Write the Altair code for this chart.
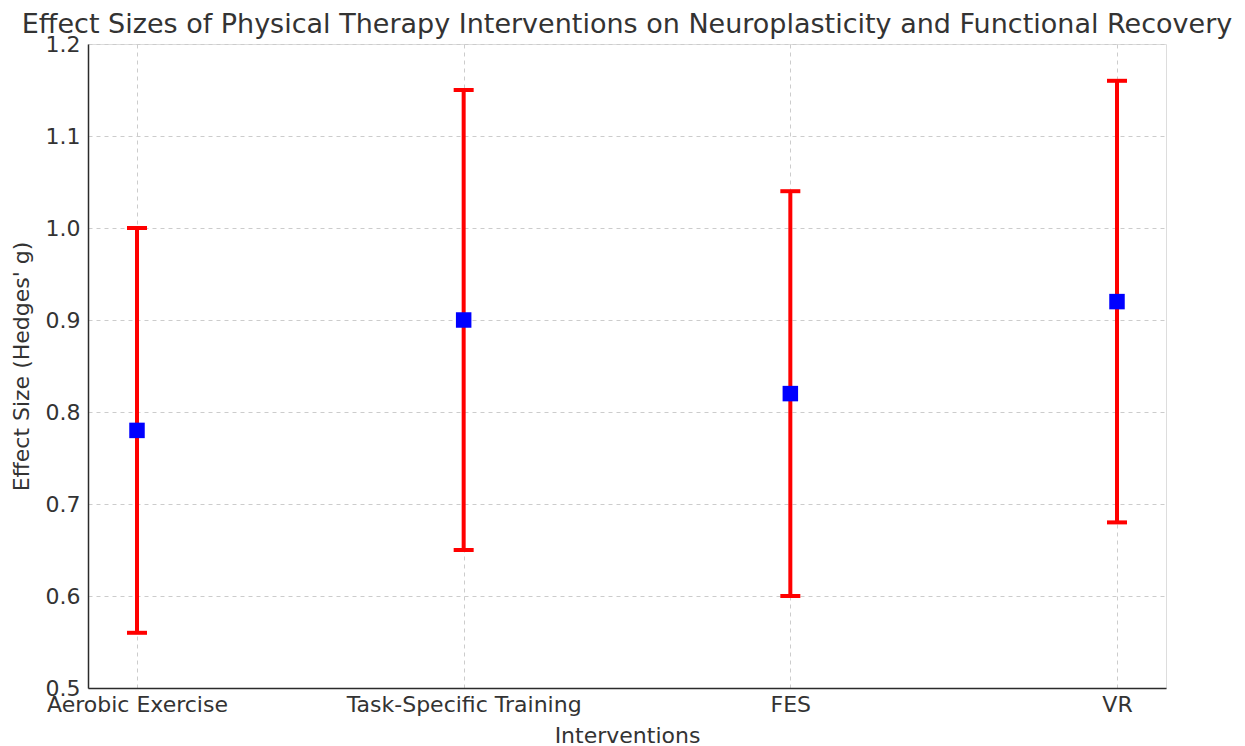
import altair as alt
import pandas as pd

interventions = ["Aerobic Exercise", "Task-Specific Training", "FES", "VR"]
effect_sizes = [0.78, 0.90, 0.82, 0.92]
ci_lower = [0.56, 0.65, 0.60, 0.68]
ci_upper = [1.00, 1.15, 1.04, 1.16]
y_ticks = [0.5, 0.6, 0.7, 0.8, 0.9, 1.0, 1.1, 1.2]

df = pd.DataFrame({
    "Intervention": interventions,
    "g": effect_sizes,
    "lo": ci_lower,
    "hi": ci_upper,
})

FONT = "DejaVu Sans"
TXT = "#333333"

x_enc = alt.X(
    "Intervention:N",
    sort=interventions,
    scale=alt.Scale(type="point", padding=0.15),
    axis=alt.Axis(
        title="Interventions",
        labelAngle=0,
        labelFontSize=22,
        titleFontSize=22,
        labelPadding=6,
        titlePadding=10,
        labelLimit=0,
        tickSize=0,
        grid=True,
        gridDash=[4, 4],
        gridColor="#cccccc",
        gridWidth=1,
        domainColor="#2b2b2b",
        domainWidth=1.5,
        labelColor=TXT,
        titleColor=TXT,
        labelFont=FONT,
        titleFont=FONT,
        titleFontWeight="normal",
    ),
)

y_scale = alt.Scale(domain=[0.5, 1.2], nice=False, zero=False)
y_axis = alt.Axis(
    title="Effect Size (Hedges' g)",
    values=y_ticks,
    format=".1f",
    labelFontSize=22,
    titleFontSize=22,
    labelPadding=8,
    titlePadding=12,
    tickSize=0,
    grid=True,
    gridDash=[4, 4],
    gridColor="#cccccc",
    gridWidth=1,
    domainColor="#2b2b2b",
    domainWidth=1.5,
    labelColor=TXT,
    titleColor=TXT,
    labelFont=FONT,
    titleFont=FONT,
    titleFontWeight="normal",
)

base = alt.Chart(df)

bars = base.mark_rule(color="#ff0000", strokeWidth=4, opacity=1).encode(
    x=x_enc,
    y=alt.Y("lo:Q", scale=y_scale, axis=y_axis),
    y2="hi:Q",
)

caps_lo = base.mark_tick(color="#ff0000", thickness=4, size=20, orient="horizontal", opacity=1).encode(
    x=alt.X("Intervention:N", sort=interventions),
    y=alt.Y("lo:Q"),
)
caps_hi = base.mark_tick(color="#ff0000", thickness=4, size=20, orient="horizontal", opacity=1).encode(
    x=alt.X("Intervention:N", sort=interventions),
    y=alt.Y("hi:Q"),
)

points = base.mark_square(color="#0000ff", size=240, opacity=1).encode(
    x=alt.X("Intervention:N", sort=interventions),
    y=alt.Y("g:Q"),
)

chart = (
    alt.layer(bars, caps_lo, caps_hi, points)
    .properties(
        width=1078,
        height=644,
        title=alt.TitleParams(
            "Effect Sizes of Physical Therapy Interventions on Neuroplasticity and Functional Recovery",
            fontSize=27,
            font=FONT,
            fontWeight="normal",
            color=TXT,
            anchor="middle",
            offset=-6,
        ),
        autosize=alt.AutoSizeParams(type="none"),
        padding={"left": 80, "top": 36, "right": 71, "bottom": 58},
    )
    .configure_view(stroke=None)
    .configure(background="white")
)

chart.save("out.html", embed_options={"renderer": "svg", "actions": False})
